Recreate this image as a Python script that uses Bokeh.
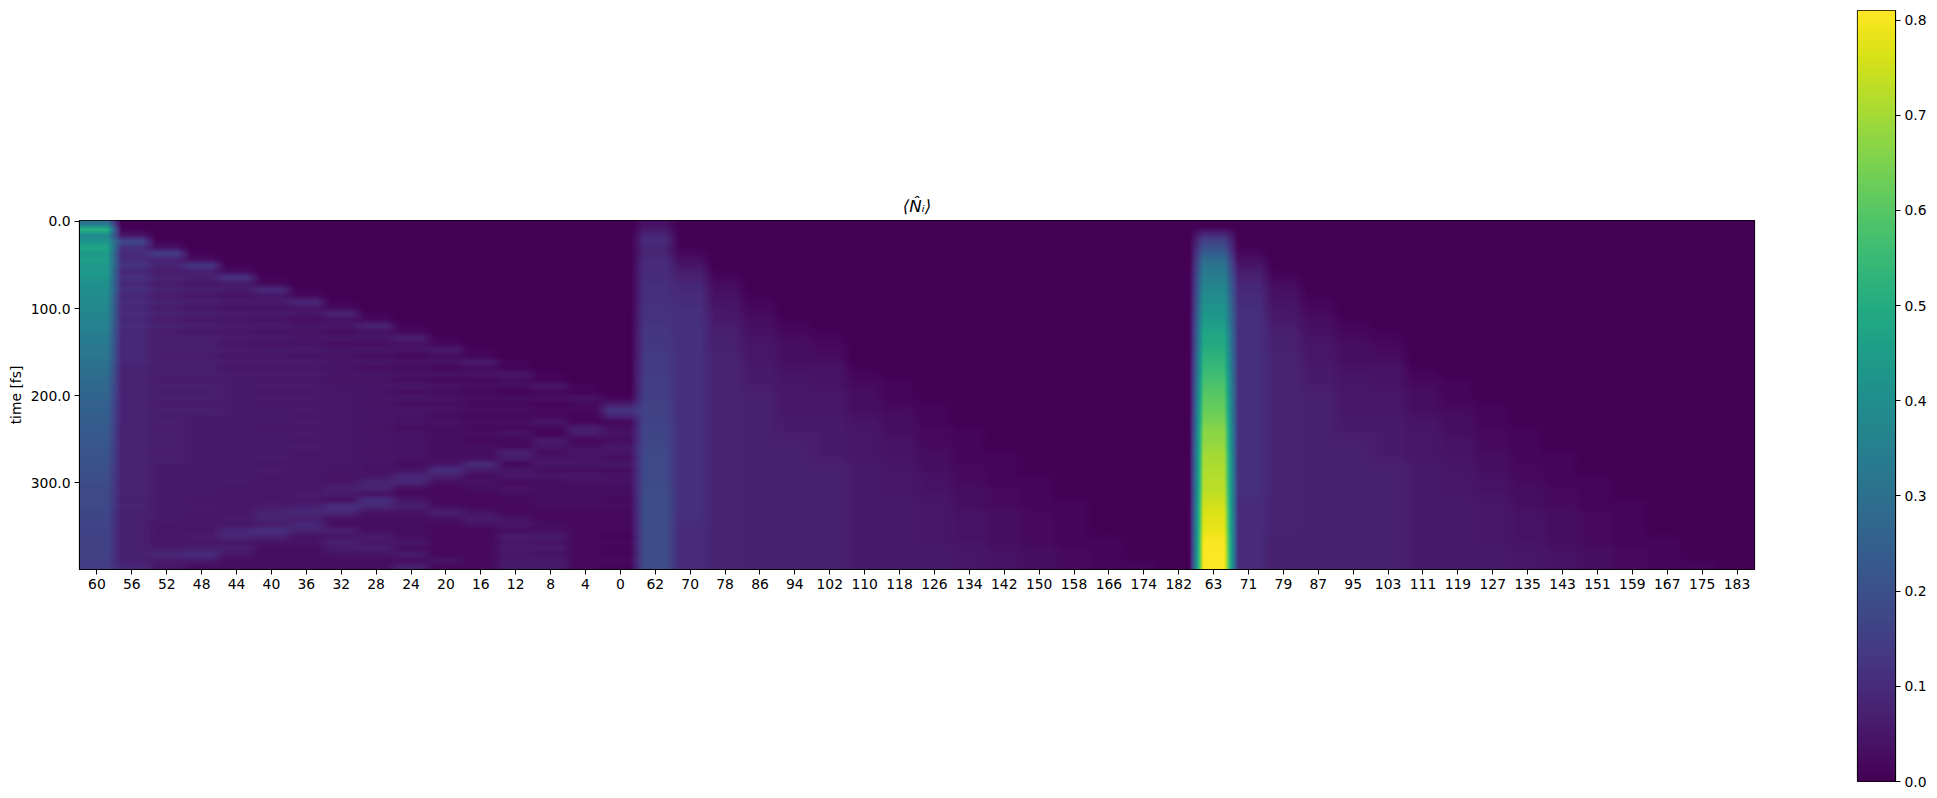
import numpy as np
from bokeh.embed import file_html
from bokeh.resources import INLINE
from bokeh.layouts import row
from bokeh.models import FixedTicker, LinearColorMapper, NumeralTickFormatter, Range1d
from bokeh.palettes import Viridis256
from bokeh.plotting import figure

x_labels = [str(v) for v in range(60, -1, -4)] + [str(v) for v in range(62, 183, 8)] + [str(v) for v in range(63, 184, 8)]
y_ticks = [0, 100, 200, 300]
cbar_ticks = [0.0, 0.1, 0.2, 0.3, 0.4, 0.5, 0.6, 0.7, 0.8]
v_max = 0.81

# occupation x 100. Trailing zeros of a row are omitted.
# first 16 sites, fine time rows
chain_a = [
    [30],
    [52, 1],
    [38, 5],
    [42, 18, 1],
    [48, 11, 4],
    [44, 10, 15, 1],
    [46, 10, 8, 3],
    [43, 12, 8, 13, 1],
    [44, 9, 6, 7, 3],
    [42, 11, 8, 7, 12, 1],
    [41, 9, 6, 5, 6, 2],
    [40, 11, 8, 7, 6, 10, 1],
    [39, 9, 6, 5, 4, 5, 2],
    [38, 10, 8, 7, 6, 6, 9, 1],
    [38, 9, 6, 5, 4, 4, 5, 2],
    [37, 10, 8, 7, 6, 6, 5, 8, 1],
    [36, 9, 6, 5, 5, 4, 3, 4, 2],
    [36, 10, 8, 7, 6, 6, 5, 5, 8, 1],
    [35, 9, 6, 5, 5, 4, 4, 3, 4, 2],
    [34, 9, 7, 7, 6, 6, 5, 5, 5, 7, 1],
    [33, 9, 6, 6, 5, 4, 4, 3, 3, 4, 2],
    [32, 9, 7, 7, 6, 6, 6, 5, 5, 4, 6, 1],
    [32, 9, 6, 6, 5, 5, 4, 4, 3, 2, 3, 1],
    [31, 9, 7, 7, 6, 6, 6, 5, 5, 4, 4, 6, 1],
    [30, 8, 6, 6, 5, 5, 5, 4, 3, 3, 2, 3, 1],
    [29, 8, 7, 7, 6, 6, 6, 5, 5, 4, 4, 4, 5, 1],
    [28, 8, 6, 6, 6, 5, 5, 4, 4, 3, 2, 2, 3, 1],
    [27, 8, 7, 7, 6, 6, 6, 5, 5, 5, 4, 3, 3, 5, 1],
    [27, 8, 6, 6, 6, 5, 5, 5, 4, 3, 3, 2, 1, 2, 1],
    [26, 8, 7, 7, 6, 6, 6, 5, 5, 5, 4, 3, 3, 3, 4, 1],
    [25, 8, 6, 6, 6, 5, 5, 5, 4, 3, 3, 2, 2, 1, 2, 6],
    [25, 8, 7, 7, 6, 6, 6, 5, 5, 5, 4, 3, 3, 2, 2, 13],
    [24, 8, 6, 6, 6, 6, 5, 5, 4, 4, 3, 2, 2, 2, 1, 8],
    [24, 8, 7, 6, 6, 6, 6, 5, 5, 4, 4, 3, 3, 5, 1, 2],
    [23, 8, 6, 6, 6, 5, 5, 5, 4, 3, 3, 2, 2, 2, 7, 3],
    [23, 8, 7, 6, 6, 6, 6, 5, 5, 4, 3, 3, 4, 1, 6, 4],
    [22, 8, 6, 6, 6, 6, 5, 5, 4, 4, 3, 2, 2, 6, 2, 3],
    [22, 8, 7, 6, 6, 6, 6, 5, 5, 4, 3, 3, 2, 5, 3, 5],
    [21, 8, 6, 6, 6, 6, 5, 5, 4, 4, 3, 3, 7, 3, 5, 5],
    [21, 8, 7, 6, 6, 6, 5, 5, 5, 4, 3, 3, 6, 4, 4, 3],
    [20, 8, 6, 6, 6, 5, 5, 5, 4, 3, 4, 10, 2, 5, 5, 5],
    [20, 8, 6, 6, 6, 6, 5, 5, 4, 4, 11, 6, 5, 3, 3, 3],
    [19, 8, 6, 6, 6, 5, 5, 4, 5, 9, 7, 3, 5, 5, 5, 4],
    [19, 8, 6, 6, 6, 5, 5, 5, 8, 9, 3, 4, 2, 3, 4, 4],
    [18, 8, 6, 6, 5, 5, 5, 7, 8, 3, 2, 3, 4, 3, 3, 3],
    [18, 8, 6, 6, 5, 5, 6, 6, 4, 2, 2, 2, 3, 3, 3, 3],
    [18, 7, 6, 5, 5, 5, 5, 4, 11, 5, 2, 2, 2, 3, 3, 2],
    [18, 8, 6, 6, 5, 6, 7, 11, 9, 7, 3, 2, 2, 3, 3, 3],
    [17, 7, 6, 5, 5, 8, 9, 9, 4, 4, 7, 4, 2, 2, 2, 2],
    [17, 7, 6, 5, 6, 8, 7, 4, 3, 3, 4, 6, 4, 2, 2, 2],
    [17, 7, 5, 5, 5, 6, 9, 3, 3, 3, 2, 4, 5, 3, 2, 2],
    [16, 7, 5, 5, 9, 11, 8, 7, 3, 3, 2, 2, 3, 3, 2, 2],
    [16, 7, 5, 6, 9, 8, 4, 5, 6, 3, 2, 2, 6, 6, 2, 1],
    [16, 7, 5, 5, 5, 4, 4, 7, 5, 5, 2, 2, 5, 4, 2, 2],
    [16, 7, 6, 7, 7, 3, 3, 6, 7, 3, 2, 2, 6, 6, 2, 1],
    [16, 7, 9, 10, 5, 3, 3, 4, 4, 6, 2, 2, 5, 4, 2, 1],
    [15, 7, 6, 6, 3, 3, 3, 3, 3, 3, 4, 2, 6, 6, 2, 2],
    [15, 9, 5, 3, 3, 3, 3, 3, 3, 7, 2, 2, 6, 6, 2, 1],
]
# middle 16 sites, coarse time rows
chain_b = [
    [4],
    [10],
    [8, 1],
    [10, 4],
    [10, 7, 1],
    [11, 9, 3],
    [11, 10, 4, 1],
    [12, 11, 5, 2],
    [12, 11, 6, 3, 1],
    [13, 11, 7, 4, 2, 1],
    [13, 11, 7, 5, 3, 2],
    [14, 11, 8, 5, 3, 3],
    [14, 11, 8, 6, 4, 4, 1],
    [15, 11, 8, 6, 5, 4, 2, 1],
    [15, 11, 8, 7, 5, 5, 3, 1],
    [16, 11, 8, 7, 5, 5, 3, 2, 1],
    [16, 11, 8, 7, 6, 6, 4, 3, 1],
    [17, 11, 8, 7, 6, 6, 5, 3, 2, 1],
    [17, 11, 8, 7, 7, 6, 5, 4, 2, 1],
    [18, 11, 8, 7, 7, 6, 5, 4, 3, 1, 1],
    [18, 11, 8, 7, 7, 7, 6, 5, 3, 2, 1],
    [18, 11, 8, 7, 7, 7, 6, 5, 4, 2, 1, 1],
    [19, 11, 8, 7, 7, 7, 6, 5, 4, 3, 2, 1],
    [19, 11, 8, 7, 7, 7, 6, 6, 5, 3, 2, 1, 1],
    [19, 11, 8, 7, 7, 7, 6, 6, 5, 4, 3, 2, 1],
    [19, 10, 8, 7, 7, 7, 6, 6, 5, 4, 3, 2, 1],
    [19, 10, 8, 7, 7, 7, 6, 6, 5, 4, 3, 2, 1, 1],
    [19, 10, 8, 7, 7, 7, 6, 6, 6, 5, 4, 3, 2, 1],
    [19, 10, 8, 7, 7, 7, 6, 6, 6, 5, 4, 3, 2, 1, 1],
]
# last 16 sites, coarse time rows
chain_c = [
    [0],
    [14],
    [22, 1],
    [30, 4],
    [34, 7, 1],
    [37, 9, 3],
    [40, 10, 4, 1],
    [42, 11, 5, 2],
    [45, 11, 6, 3, 1],
    [48, 11, 7, 4, 2, 1],
    [50, 11, 7, 5, 3, 2],
    [53, 11, 8, 5, 3, 3],
    [55, 11, 8, 6, 4, 4, 1],
    [58, 11, 8, 6, 5, 4, 2, 1],
    [60, 11, 8, 7, 5, 5, 3, 1],
    [62, 11, 8, 7, 5, 5, 3, 2, 1],
    [64, 11, 8, 7, 6, 6, 4, 3, 1],
    [67, 11, 8, 7, 6, 6, 5, 3, 2, 1],
    [68, 11, 8, 7, 7, 6, 5, 4, 2, 1],
    [70, 11, 8, 7, 7, 6, 5, 4, 3, 1, 1],
    [71, 11, 8, 7, 7, 7, 6, 5, 3, 2, 1],
    [72, 11, 8, 7, 7, 7, 6, 5, 4, 2, 1, 1],
    [73, 11, 8, 7, 7, 7, 6, 5, 4, 3, 2, 1],
    [75, 10, 8, 7, 7, 7, 6, 6, 5, 3, 2, 1, 1],
    [77, 10, 8, 7, 7, 7, 6, 6, 5, 4, 3, 2, 1],
    [78, 10, 8, 7, 7, 7, 6, 6, 5, 4, 3, 2, 1],
    [80, 10, 7, 7, 7, 7, 6, 6, 5, 4, 3, 2, 1, 1],
    [81, 10, 7, 7, 7, 7, 6, 6, 6, 5, 4, 3, 2, 1],
    [81, 10, 7, 7, 7, 7, 6, 6, 6, 5, 4, 3, 2, 1, 1],
]


def block(rows):
    return np.array([r + [0] * (16 - len(r)) for r in rows], dtype=float) / 100


# Display resampling only, the role of imshow's interpolation: the browser
# draws this image without smoothing, so it is drawn at about one pixel a cell.
UP_T, UP_X = 349, 1674
BLEND = 0.2


def smooth_rows(m):
    n = m.shape[0]
    centers = (np.arange(n) + 0.5) / n
    t = (np.arange(UP_T) + 0.5) / UP_T
    return np.column_stack([np.interp(t, centers, m[:, j]) for j in range(m.shape[1])])


tall = np.hstack([smooth_rows(block(chain_a)), smooth_rows(block(chain_b)), smooth_rows(block(chain_c))])
knots = np.ravel([[c + BLEND, c + 1 - BLEND] for c in range(48)])
u = (np.arange(UP_X) + 0.5) / UP_X * 48
picture = np.vstack([np.interp(u, knots, np.repeat(r, 2)) for r in tall])

FONT = "DejaVu Sans"
SIZE = "13.9px"
mapper = LinearColorMapper(palette=Viridis256, low=0, high=v_max)


def style(ax):
    ax.major_label_text_font = FONT
    ax.major_label_text_font_size = SIZE
    ax.major_label_text_color = "black"
    ax.major_tick_in = 0
    ax.major_tick_out = 5
    ax.minor_tick_out = 0
    ax.minor_tick_in = 0
    ax.axis_line_color = "black"
    ax.major_tick_line_color = "black"
    ax.major_tick_line_width = 1
    ax.major_label_standoff = 4


p = figure(width=1800, height=790, output_backend="svg", toolbar_location=None,
           x_range=Range1d(-0.5, 47.5), y_range=Range1d(399.2, -1.0), frame_align=False,
           min_border_left=79, min_border_right=46, min_border_top=220, min_border_bottom=221,
           title="⟨N̂ᵢ⟩", background_fill_color="white", border_fill_color="white")
p.image(image=[picture], x=-0.5, y=-1.0, dw=48, dh=400.2, color_mapper=mapper)
p.grid.visible = False
p.outline_line_color = "black"
p.outline_line_width = 1.2
p.title.align = "center"
p.title.text_font = FONT
p.title.text_font_size = "16.7px"
p.title.text_font_style = "italic"
p.title.text_color = "black"
p.xaxis.ticker = FixedTicker(ticks=list(range(48)))
p.xaxis.major_label_overrides = {i: s for i, s in enumerate(x_labels)}
p.yaxis.ticker = FixedTicker(ticks=y_ticks)
p.yaxis.formatter = NumeralTickFormatter(format="0.0")
p.yaxis.axis_label = "time [fs]"
p.yaxis.axis_label_text_font = FONT
p.yaxis.axis_label_text_font_size = SIZE
p.yaxis.axis_label_text_font_style = "normal"
p.yaxis.axis_label_text_color = "black"
p.yaxis.axis_label_standoff = 4
style(p.xaxis[0])
style(p.yaxis[0])

ramp = np.linspace(0, v_max, 256).reshape(-1, 1)
cb = figure(width=129, height=790, output_backend="svg", toolbar_location=None,
            x_range=Range1d(0, 1), y_range=Range1d(0, v_max), frame_align=False,
            min_border_left=57, min_border_right=32, min_border_top=10, min_border_bottom=9,
            x_axis_location=None, y_axis_location="right",
            background_fill_color="white", border_fill_color="white")
cb.image(image=[ramp], x=0, y=0, dw=1, dh=v_max, color_mapper=mapper)
cb.grid.visible = False
cb.outline_line_color = "black"
cb.outline_line_width = 1.2
cb.yaxis.ticker = FixedTicker(ticks=cbar_ticks)
cb.yaxis.formatter = NumeralTickFormatter(format="0.0")
style(cb.yaxis[0])

open("out.html", "w").write(file_html(row(p, cb, spacing=0), INLINE))
